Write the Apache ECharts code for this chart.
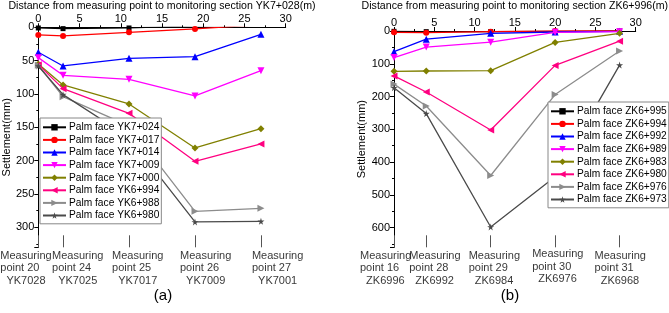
<!DOCTYPE html>
<html>
<head>
<meta charset="utf-8">
<script src="https://cdn.jsdelivr.net/npm/echarts@6/dist/echarts.min.js"></script>
<style>
  html, body { margin: 0; padding: 0; background: #fff; }
  #chart { width: 669px; height: 313px; }
</style>
</head>
<body>
<div id="chart"></div>
<script>
// distance (m) of each measuring point from the monitoring section
var distA = [0, 3, 11, 19, 27]
var distB = [0, 4, 12, 20, 28]

var pointsA = ['point 20', 'point 24', 'point 25', 'point 26', 'point 27']
var sectionsA = ['YK7028', 'YK7025', 'YK7017', 'YK7009', 'YK7001']
var pointsB = ['point 16', 'point 28', 'point 29', 'point 30', 'point 31']
var sectionsB = ['ZK6996', 'ZK6992', 'ZK6984', 'ZK6976', 'ZK6968']

// settlement (mm), left chart
var namesA = ['Palm face YK7+024', 'Palm face YK7+017', 'Palm face YK7+014', 'Palm face YK7+009',
  'Palm face YK7+000', 'Palm face YK6+994', 'Palm face YK6+988', 'Palm face YK6+980']
var yk7024 = [1, 2, 1, -2, -3]
var yk7017 = [11.5, 13, 7.5, 2.5, -4]
var yk7014 = [37.5, 58, 46.5, 44, 10.5]
var yk7009 = [45.5, 72, 78, 103, 65]
var yk7000 = [55, 86.5, 115, 181, 152]
var yk6994 = [56, 92, 129, 201, 175]
var yk6988 = [57, 104, 148, 276, 271.5]
var yk6980 = [58, 101, 165, 292, 291]

// settlement (mm), right chart
var namesB = ['Palm face ZK6+995', 'Palm face ZK6+994', 'Palm face ZK6+992', 'Palm face ZK6+989',
  'Palm face ZK6+983', 'Palm face ZK6+980', 'Palm face ZK6+976', 'Palm face ZK6+973']
var zk6995 = [1, 2, 2, 1, 0]
var zk6994 = [4, 5, 2, 0, -1]
var zk6992 = [63, 25, 7, 3, 1]
var zk6989 = [81, 49, 34, 4, 2]
var zk6983 = [123, 122, 121, 35, 7]
var zk6980 = [137, 186, 302, 105, 31]
var zk6976 = [162, 229, 441, 194, 61]
var zk6973 = [173, 252, 598, 445, 104]

var FONT = 'Arial, "Liberation Sans", sans-serif'
var STAR = 'path://M50,0 L61,35 L98,35 L68,57 L79,91 L50,70 L21,91 L32,57 L2,35 L39,35 Z'

// colour / symbol / rotation / size for the 8 curves (same order in both charts)
var styles = [
  ['#000000', 'rect', 0, 5],
  ['#ff0000', 'circle', 0, 6],
  ['#0000ff', 'triangle', 0, 7],
  ['#ff00ff', 'triangle', 180, 7],
  ['#808000', 'diamond', 0, 7],
  ['#ff0080', 'triangle', 90, 7],
  ['#8c8c8c', 'triangle', -90, 7],
  ['#4a4a4a', STAR, 0, 7]
]

function pairs(xs, ys) {
  return xs.map(function (x, i) { return [x, ys[i]] })
}

function curves(names, sets, xs, axis) {
  return sets.map(function (ys, i) {
    var s = styles[i]
    return {
      name: names[i],
      type: 'line',
      xAxisIndex: axis,
      yAxisIndex: axis,
      data: pairs(xs, ys),
      symbol: s[1],
      symbolRotate: s[2],
      symbolSize: s[3],
      color: s[0],
      lineStyle: { width: 1.3, color: s[0] },
      itemStyle: { color: s[0] },
      clip: true,
      z: 2 + i * 0.01
    }
  })
}

// helper series: text under each measuring point
function pointLabels(xs, pts, secs, ymax, axis, shifts) {
  return {
    type: 'scatter',
    xAxisIndex: axis,
    yAxisIndex: axis,
    symbolSize: 0,
    clip: false,
    silent: true,
    data: xs.map(function (x, i) {
      return {
        value: [x, ymax],
        label: { offset: [shifts[i][0], shifts[i][1]] },
        text: 'Measuring\n' + pts[i] + '\n  ' + secs[i]
      }
    }),
    label: {
      show: true,
      position: 'bottom',
      distance: 2,
      align: 'left',
      verticalAlign: 'top',
      fontSize: 11,
      lineHeight: 12.5,
      color: '#000',
      fontFamily: FONT,
      formatter: function (p) { return p.data.text }
    }
  }
}

function xTop(grid, title, gap) {
  return {
    gridIndex: grid, type: 'value', position: 'top', min: 0, max: 30, interval: 5,
    name: title, nameLocation: 'middle', nameGap: gap, nameMoveOverlap: false,
    nameTextStyle: { fontSize: 10.6, color: '#000', fontFamily: FONT },
    axisLine: { lineStyle: { color: '#000', width: 1 } },
    axisTick: { length: 4, lineStyle: { color: '#000' } },
    minorTick: { show: true, splitNumber: 2, length: 2, lineStyle: { color: '#000' } },
    axisLabel: { fontSize: 11, color: '#000', margin: 3, fontFamily: FONT },
    splitLine: { show: false }
  }
}

function xBottom(grid, ticks) {
  return {
    gridIndex: grid, type: 'value', position: 'bottom', min: 0, max: 30,
    axisLine: { show: false },
    axisLabel: { show: false },
    axisTick: { show: true, inside: true, length: 12, customValues: ticks,
      lineStyle: { color: '#555', width: 1 } },
    splitLine: { show: false }
  }
}

function yLeft(grid, max, step) {
  return {
    gridIndex: grid, type: 'value', inverse: true, min: 0, max: max, interval: step,
    name: 'Settlement(mm)', nameLocation: 'middle', nameGap: 26, nameRotate: 90,
    nameTextStyle: { fontSize: 11, color: '#000', fontFamily: FONT },
    axisLine: { show: true, lineStyle: { color: '#000', width: 1 } },
    axisTick: { length: 4, lineStyle: { color: '#000' } },
    minorTick: { show: true, splitNumber: 2, length: 2, lineStyle: { color: '#000' } },
    axisLabel: { fontSize: 11, color: '#000', margin: 4, fontFamily: FONT, showMaxLabel: false },
    splitLine: { show: false }
  }
}

function legend(names, left, top) {
  return {
    data: names, orient: 'vertical', left: left, top: top,
    itemWidth: 23, itemHeight: 8, itemGap: 0,
    padding: [3, 2, 2, 2],
    backgroundColor: '#fff', borderColor: '#888', borderWidth: 1, borderRadius: 0,
    textStyle: { fontSize: 10.2, lineHeight: 12.6, color: '#000', fontFamily: FONT, padding: [0, 0, 0, -2] },
    selectedMode: false
  }
}

var chart = echarts.init(document.getElementById('chart'))

var option = {
  animation: false,
  backgroundColor: '#fff',
  textStyle: { fontFamily: FONT },
  grid: [
    { left: 38.3, top: 27.3, width: 247.4, height: 220, outerBoundsMode: 'none', containLabel: false },
    { left: 394, top: 31, width: 241.7, height: 216.3, outerBoundsMode: 'none', containLabel: false }
  ],
  xAxis: [
    xTop(0, 'Distance from measuring point to monitoring section YK7+028(m)', 16),
    xTop(1, 'Distance from measuring point to monitoring section ZK6+996(m)', 19),
    xBottom(0, distA),
    xBottom(1, distB)
  ],
  yAxis: [yLeft(0, 330, 50), yLeft(1, 660, 100)],
  legend: [legend(namesA, 40, 118), legend(namesB, 548, 102)],
  graphic: [
    { type: 'text', x: 163, y: 288, style: { text: '(a)', fill: '#000', font: '15px ' + FONT, textAlign: 'center' } },
    { type: 'text', x: 510, y: 288, style: { text: '(b)', fill: '#000', font: '15px ' + FONT, textAlign: 'center' } }
  ],
  series: []
    .concat(curves(namesA, [yk7024, yk7017, yk7014, yk7009, yk7000, yk6994, yk6988, yk6980], distA, 0))
    .concat(curves(namesB, [zk6995, zk6994, zk6992, zk6989, zk6983, zk6980, zk6976, zk6973], distB, 1))
    .concat([
      pointLabels(distA, pointsA, sectionsA, 330, 0, [[-38, 0], [-11, 0], [-17, 0], [-15, 0], [-9, 0]]),
      pointLabels(distB, pointsB, sectionsB, 660, 1, [[-34, 0], [-17, 0], [-22, 0], [-23, -1.5], [-25, 0]])
    ])
}

chart.setOption(option)
</script>
</body>
</html>
